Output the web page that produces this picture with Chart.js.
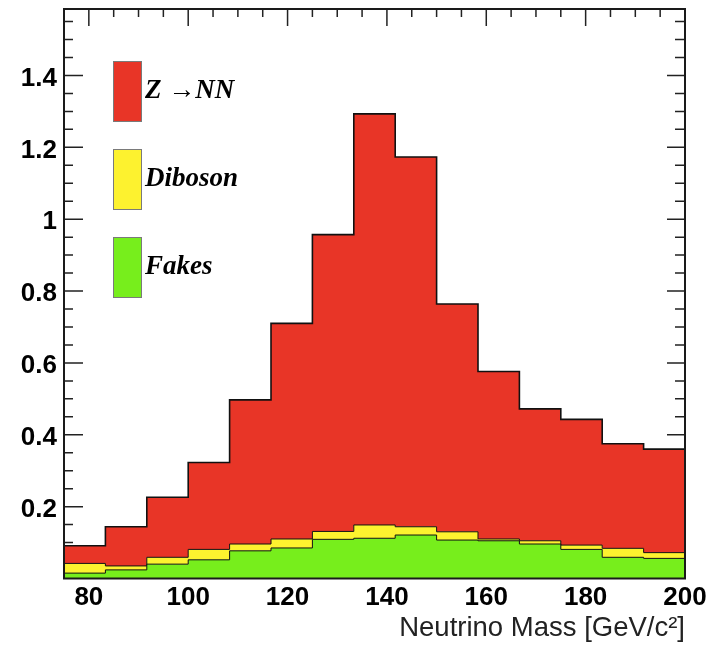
<!DOCTYPE html>
<html><head><meta charset="utf-8">
<script src="https://cdn.jsdelivr.net/npm/chart.js@4"></script>
<style>html,body{margin:0;padding:0;background:#fff;} canvas{display:block;}</style>
</head><body>
<canvas id="c" width="715" height="645"></canvas>
<script>
// Bin edges (GeV/c^2) and per-bin contributions of each stacked component
const binEdges = [75, 83.333, 91.667, 100, 108.333, 116.667, 125, 133.333, 141.667, 150, 158.333, 166.667, 175, 183.333, 191.667, 200];
const fakes   = [0.015, 0.024, 0.040, 0.052, 0.077, 0.085, 0.109, 0.112, 0.121, 0.107, 0.105, 0.096, 0.081, 0.059, 0.056];
const diboson = [0.027, 0.011, 0.019, 0.029, 0.019, 0.025, 0.022, 0.037, 0.023, 0.023, 0.005, 0.009, 0.012, 0.025, 0.016];
const zNN     = [0.049, 0.109, 0.167, 0.242, 0.401, 0.600, 0.826, 1.144, 1.029, 0.634, 0.466, 0.367, 0.350, 0.291, 0.288];
const xTickValues = [80, 100, 120, 140, 160, 180, 200];
const yTickValues = [0.2, 0.4, 0.6, 0.8, 1.0, 1.2, 1.4];
const seriesLabels = ['Fakes', 'Diboson', 'Z \u2192NN'];
const seriesColors = ['#77ee1c', '#fdf22f', '#e83527'];
const xTitle = 'Neutrino Mass [GeV/c\u00B2]';

// cumulative stack tops
const layers = [fakes, diboson, zNN];
const stacked = [];
let run = fakes.map(() => 0);
layers.forEach(l => { run = run.map((v, i) => v + l[i]); stacked.push(run.slice()); });
function stepPoints(vals) {
  return binEdges.map((x, i) => ({ x: x, y: vals[Math.min(i, vals.length - 1)] }));
}

const innerTicks = {
  id: 'innerTicks',
  beforeDatasetsDraw(chart) {
    const { ctx, chartArea: a, scales: { x, y } } = chart;
    ctx.save();
    ctx.strokeStyle = '#222';
    ctx.lineWidth = 1.5;
    ctx.beginPath();
    for (let k = 1; k * 0.05 <= y.max; k++) {
      const py = y.getPixelForValue(k * 0.05);
      const major = k % 4 === 0;
      ctx.moveTo(a.left, py); ctx.lineTo(a.left + (major ? 19 : 9), py);
      ctx.moveTo(a.right, py); ctx.lineTo(a.right - (major ? 18 : 10), py);
    }
    for (let v = 80; v < 200; v += 5) {
      const px = x.getPixelForValue(v);
      const major = v % 20 === 0;
      ctx.moveTo(px, a.top); ctx.lineTo(px, a.top + (major ? 17 : 8));
    }
    ctx.stroke();
    ctx.restore();
  }
};

const boxLegend = {
  id: 'boxLegend',
  afterDatasetsDraw(chart) {
    const { ctx } = chart;
    const ds = chart.data.datasets;
    ctx.save();
    const order = [2, 1, 0];
    order.forEach((di, j) => {
      const top = 61 + j * 88;
      const h = 61;
      ctx.fillStyle = ds[di].backgroundColor;
      ctx.fillRect(113, top, 29, h);
      ctx.strokeStyle = '#7a7a7a';
      ctx.lineWidth = 1;
      ctx.strokeRect(113.5, top + 0.5, 28, h - 1);
      ctx.fillStyle = '#000';
      ctx.font = 'italic bold 27px "Liberation Serif", "Times New Roman", serif';
      ctx.textBaseline = 'middle';
      ctx.textAlign = 'left';
      ctx.fillText(ds[di].label, 145, top + h / 2);
    });
    ctx.restore();
  }
};

const frame = {
  id: 'frame',
  afterDraw(chart) {
    const { ctx, chartArea: a } = chart;
    ctx.save();
    ctx.strokeStyle = '#1a1a1a';
    ctx.lineWidth = 2;
    ctx.strokeRect(a.left, a.top, a.right - a.left, a.bottom - a.top);
    ctx.restore();
  }
};

const datasets = stacked.map((vals, i) => ({
  label: seriesLabels[i],
  data: stepPoints(vals),
  stepped: 'before',
  backgroundColor: seriesColors[i],
  borderColor: '#111',
  borderWidth: i === 2 ? 1.6 : 1,
  pointRadius: 0,
  fill: i === 0 ? 'origin' : '-1'
}));

new Chart(document.getElementById('c'), {
  type: 'line',
  data: { datasets: datasets },
  plugins: [innerTicks, boxLegend, frame],
  options: {
    responsive: false,
    devicePixelRatio: 1,
    animation: false,
    layout: { padding: { left: 0, right: 30, top: 9, bottom: 0 } },
    plugins: { legend: { display: false }, tooltip: { enabled: false } },
    events: [],
    scales: {
      x: {
        type: 'linear', position: 'bottom', min: 75, max: 200,
        grid: { display: false, drawTicks: false },
        border: { display: false },
        afterBuildTicks: s => { s.ticks = xTickValues.map(v => ({ value: v })); },
        afterFit: s => { s.height = 66.5; s.paddingLeft = 0; s.paddingRight = 0; },
        ticks: {
          padding: 4, color: '#000', maxRotation: 0, autoSkip: false,
          font: { family: '"Liberation Sans", Arial, sans-serif', size: 26, weight: 'bold' },
          callback: v => String(v)
        },
        title: {
          display: true, text: xTitle, align: 'end', color: '#222',
          padding: { top: 0, bottom: 0 },
          font: { family: '"Liberation Sans", Arial, sans-serif', size: 27.5, weight: 'normal' }
        }
      },
      y: {
        type: 'linear', min: 0, max: 1.585,
        grid: { display: false, drawTicks: false },
        border: { display: false },
        afterBuildTicks: s => { s.ticks = yTickValues.map(v => ({ value: v })); },
        afterFit: s => { s.width = 64; s.paddingTop = 0; s.paddingBottom = 0; },
        ticks: {
          padding: 7, color: '#000', labelOffset: 3,
          font: { family: '"Liberation Sans", Arial, sans-serif', size: 26, weight: 'bold' },
          callback: v => String(Math.round(v * 10) / 10)
        }
      }
    }
  }
});
</script>
</body></html>
